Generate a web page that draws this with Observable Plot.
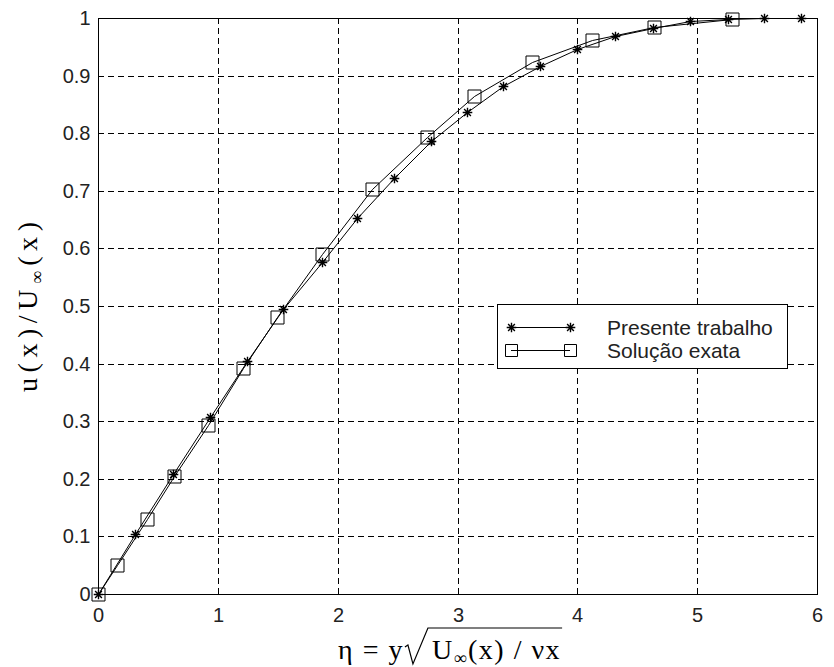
<!DOCTYPE html>
<html><head><meta charset="utf-8">
<script src="https://cdn.jsdelivr.net/npm/d3@7"></script>
<script src="https://cdn.jsdelivr.net/npm/@observablehq/plot@0.6"></script>
<style>
html,body{margin:0;padding:0;background:#fff}
#wrap{position:relative;width:834px;height:667px;overflow:hidden}
</style>
</head><body><div id="wrap"></div>
<script>
// ---- data ----
const seriesNames = ["Presente trabalho", "Solução exata"];
const etaPresente = [0, 0.309, 0.629, 0.935, 1.241, 1.547, 1.867, 2.159, 2.473, 2.777, 3.083, 3.383, 3.69, 3.995, 4.316, 4.63, 4.94, 5.26, 5.56, 5.87];
const uPresente   = [0, 0.105, 0.208, 0.308, 0.405, 0.494, 0.577, 0.652, 0.723, 0.786, 0.837, 0.882, 0.917, 0.947, 0.968, 0.982, 0.994, 0.998, 1.0, 1.0];
const etaExata = [0, 0.156, 0.406, 0.637, 0.921, 1.213, 1.497, 1.867, 2.284, 2.743, 3.139, 3.62, 4.12, 4.64, 5.29];
const uExata   = [0, 0.05, 0.131, 0.204, 0.293, 0.393, 0.481, 0.590, 0.703, 0.793, 0.865, 0.923, 0.961, 0.985, 0.999];
const xTicks = [0, 1, 2, 3, 4, 5, 6];
const yTicks = [0, 0.1, 0.2, 0.3, 0.4, 0.5, 0.6, 0.7, 0.8, 0.9, 1];

const presente = etaPresente.map((e, i) => ({eta: e, u: uPresente[i], s: seriesNames[0]}));
const exata = etaExata.map((e, i) => ({eta: e, u: uExata[i], s: seriesNames[1]}));

// MATLAB-like markers
const starSym = {draw(ctx, size) {
  const r = Math.sqrt(size / Math.PI), d = r * 0.7071;
  ctx.moveTo(-r, 0); ctx.lineTo(r, 0);
  ctx.moveTo(0, -r); ctx.lineTo(0, r);
  ctx.moveTo(-d, -d); ctx.lineTo(d, d);
  ctx.moveTo(-d, d); ctx.lineTo(d, -d);
}};
const squareSym = {draw(ctx, size) {
  const r = Math.sqrt(size / Math.PI);
  ctx.moveTo(-r, -r); ctx.lineTo(r, -r); ctx.lineTo(r, r); ctx.lineTo(-r, r); ctx.closePath();
}};

const sans = "'Liberation Sans', Arial, sans-serif";
const serif = "'Liberation Serif', 'Times New Roman', serif";

const chart = Plot.plot({
  width: 834, height: 667,
  marginLeft: 98, marginRight: 17, marginTop: 18, marginBottom: 73,
  x: {domain: [0, 6], round: true},
  y: {domain: [0, 1], round: true},
  style: {background: "#fff", fontFamily: sans, fontSize: "20px", color: "#111"},
  marks: [
    Plot.gridX(xTicks.slice(1, -1), {stroke: "#000", strokeOpacity: 1, strokeWidth: 1, strokeDasharray: "6,4"}),
    Plot.gridY(yTicks.slice(1, -1), {stroke: "#000", strokeOpacity: 1, strokeWidth: 1, strokeDasharray: "6,4"}),
    Plot.frame({stroke: "#000", strokeWidth: 1}),
    Plot.axisX(xTicks, {tickSize: 0, tickPadding: 13, tickFormat: d => String(d), label: null, fill: "#222"}),
    Plot.axisY(yTicks, {tickSize: 0, tickPadding: 8, tickFormat: d => String(d), label: null, fill: "#222"}),
    Plot.line(presente, {x: "eta", y: "u", stroke: "#000", strokeWidth: 1}),
    Plot.line(exata, {x: "eta", y: "u", stroke: "#000", strokeWidth: 1}),
    Plot.dot(presente, {x: "eta", y: "u", symbol: starSym, r: 4.8, stroke: "#000", strokeWidth: 1.4, fill: "none"}),
    Plot.dot(exata, {x: "eta", y: "u", symbol: squareSym, r: 6.5, stroke: "#000", strokeWidth: 1, fill: "none"})
  ]
});
document.getElementById("wrap").appendChild(chart);

const svg = d3.select(chart);

// ---- y label: u(x)/U∞(x) ----
const yl = svg.append("text")
  .attr("transform", "translate(37,392) rotate(-90)")
  .attr("text-anchor", "start")
  .attr("font-family", serif).attr("font-size", 28).attr("fill", "#000")
  .attr("textLength", 170).attr("lengthAdjust", "spacing");
yl.append("tspan").text("u(x)/U");
yl.append("tspan").attr("dy", 6).attr("font-size", 18).text("∞");
yl.append("tspan").attr("dy", -6).text("(x)");

// ---- x label: η = y √(U∞(x) / νx) ----
const base = 659;
const xl = svg.append("text")
  .attr("x", 338).attr("y", base)
  .attr("text-anchor", "start")
  .attr("font-family", serif).attr("font-size", 28).attr("fill", "#000")
  .attr("letter-spacing", "1.5px");
xl.append("tspan").text("η = y");
xl.append("tspan").attr("dx", 28).text("U");
xl.append("tspan").attr("dy", 5).attr("font-size", 18).text("∞");
xl.append("tspan").attr("dy", -5).text("(x) / νx");
const xn = xl.node();
const nChars = xn.getNumberOfChars();
const yEnd = xn.getEndPositionOfChar(4).x;
const uStart = xn.getStartPositionOfChar(5).x;
const tEnd = xn.getEndPositionOfChar(nChars - 1).x;
const topY = base - 31;
svg.append("path")
  .attr("d", `M${yEnd + 1},${base - 12} L${yEnd + 4},${base - 14} L${yEnd + 9},${base + 5} L${uStart - 4},${topY} L${tEnd + 1},${topY}`)
  .attr("fill", "none").attr("stroke", "#000").attr("stroke-width", 1.2);

// ---- legend ----
const lg = svg.append("g").attr("text-anchor", "start");
lg.append("rect").attr("x", 497.5).attr("y", 304.5).attr("width", 290).attr("height", 64)
  .attr("fill", "#fff").attr("stroke", "#000").attr("stroke-width", 1);
const rows = [
  {name: seriesNames[0], sym: starSym, r: 4.8, sw: 1.4, y: 327},
  {name: seriesNames[1], sym: squareSym, r: 6, sw: 1, y: 350}
];
for (const row of rows) {
  lg.append("line").attr("x1", 511).attr("x2", 570).attr("y1", row.y + 0.5).attr("y2", row.y + 0.5)
    .attr("stroke", "#000").attr("stroke-width", 1);
  for (const cx of [511, 570]) {
    lg.append("path").attr("transform", `translate(${cx + 0.5},${row.y + 0.5})`)
      .attr("d", d3.symbol(row.sym, Math.PI * row.r * row.r)())
      .attr("fill", "none").attr("stroke", "#000").attr("stroke-width", row.sw);
  }
  lg.append("text").attr("x", 607).attr("y", row.y).attr("dy", "0.36em")
    .attr("text-anchor", "start")
    .attr("font-family", sans).attr("font-size", 21).attr("fill", "#222").text(row.name);
}
</script>
</body></html>
